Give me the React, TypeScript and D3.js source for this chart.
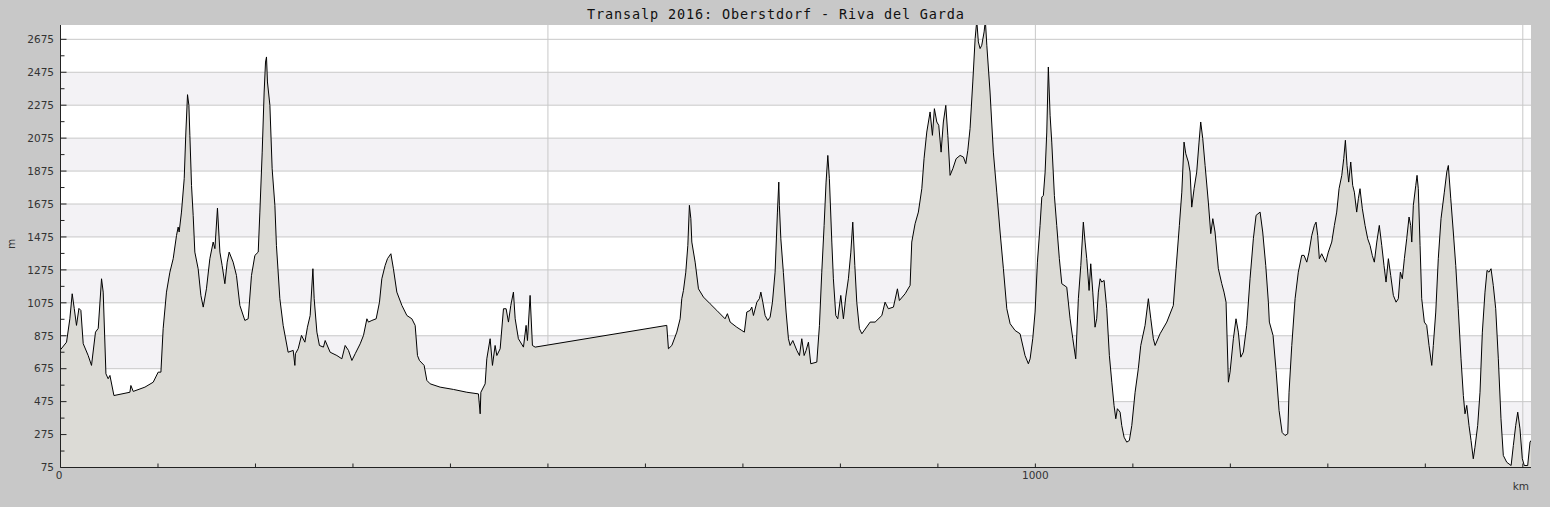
import * as d3 from "d3";

// profile: distance (km) and elevation (m)
const distanceKm = [
  0, 6.2, 9.6, 12.0, 14.1, 16.4, 18.9, 20.9, 23.3, 28.4, 31.8, 35.9, 38.7, 42.1, 43.8, 46.6, 48.9, 50.7, 54.8,
  71.2, 72.2, 74.6, 86.6, 95.1, 100.2, 103.0, 105.3, 108.7, 112.2, 115.6, 119.0, 120.7, 121.7, 124.1, 126.9,
  128.6, 130.3, 131.7, 132.7, 134.4, 136.1, 137.8, 141.2, 144.0, 146.4, 149.7, 153.2, 156.6, 158.4, 161.0,
  163.5, 165.8, 168.6, 171.0, 173.0, 177.1, 180.5, 184.0, 189.1, 192.5, 195.9, 199.4, 202.8, 204.5, 206.9,
  208.9, 210.3, 211.3, 212.3, 214.8, 217.1, 219.9, 221.5, 225.0, 228.4, 233.5, 238.7, 240.4, 241.0, 243.8,
  247.2, 250.7, 253.3, 256.1, 258.9, 260.2, 263.0, 265.6, 269.7, 271.5, 276.6, 283.5, 288.6, 292.0, 295.4,
  298.9, 302.3, 307.4, 310.8, 314.3, 315.9, 319.4, 323.8, 327.2, 329.6, 333.0, 335.4, 338.9, 341.5, 345.0,
  350.2, 355.3, 360.4, 363.8, 366.2, 368.2, 373.0, 375.8, 379.2, 389.4, 403.1, 416.8, 428.7, 430.5, 431.2,
  435.6, 437.3, 440.7, 443.1, 445.8, 447.6, 451.0, 454.4, 457.1, 459.5, 461.9, 464.6, 466.4, 469.7, 474.9,
  477.6, 479.0, 481.7, 484.1, 486.9, 621.9, 623.6, 627.1, 632.2, 635.6, 637.3, 639.0, 641.4, 643.5, 645.1,
  646.6, 647.6, 651.0, 654.4, 659.5, 666.4, 673.2, 681.7, 684.1, 686.9, 693.7, 698.9, 701.5, 704.0, 707.4,
  709.1, 710.8, 714.3, 716.9, 718.4, 720.4, 722.8, 725.5, 727.9, 730.3, 733.0, 735.4, 736.8, 737.4, 738.9,
  741.5, 744.3, 746.7, 748.4, 751.2, 755.3, 758.0, 760.4, 762.8, 764.8, 767.2, 769.6, 775.8, 778.5, 780.9,
  783.3, 785.3, 787.1, 788.7, 791.2, 792.8, 795.3, 797.3, 800.4, 803.1, 805.5, 808.2, 810.7, 812.7, 814.8,
  816.8, 819.5, 822.0, 830.5, 835.6, 842.5, 845.8, 849.2, 854.4, 858.5, 860.5, 866.4, 871.5, 873.2, 876.6,
  880.0, 883.5, 885.8, 888.6, 892.0, 894.4, 896.4, 898.9, 900.9, 903.3, 905.6, 908.1, 910.2, 912.5, 915.3,
  918.7, 922.8, 926.2, 928.6, 930.7, 933.0, 935.8, 938.2, 939.9, 941.5, 943.3, 945.0, 947.4, 948.7, 950.2,
  953.5, 956.9, 960.4, 963.8, 967.2, 970.7, 974.1, 979.2, 984.3, 989.4, 992.8, 994.6, 997.3, 999.7, 1002.1,
  1004.8, 1006.6, 1008.2, 1010.0, 1011.7, 1013.3, 1015.1, 1016.8, 1019.5, 1021.9, 1024.6, 1027.1, 1032.2,
  1035.6, 1038.4, 1041.4, 1044.1, 1046.6, 1049.2, 1051.0, 1052.7, 1055.1, 1056.8, 1058.9, 1061.2, 1062.9,
  1064.6, 1066.4, 1068.1, 1070.5, 1073.2, 1075.9, 1078.4, 1080.7, 1082.5, 1084.1, 1086.9, 1088.6, 1091.0,
  1093.7, 1096.4, 1098.9, 1102.3, 1105.6, 1108.1, 1112.5, 1115.9, 1118.4, 1121.0, 1122.8, 1127.9, 1134.8,
  1141.5, 1144.3, 1147.7, 1150.2, 1152.5, 1154.3, 1156.9, 1158.7, 1160.4, 1162.8, 1165.5, 1167.9, 1169.6,
  1171.7, 1174.1, 1177.4, 1179.9, 1182.0, 1184.3, 1187.7, 1191.2, 1193.5, 1195.6, 1198.0, 1199.7, 1203.1,
  1205.8, 1208.2, 1210.7, 1213.3, 1216.8, 1220.2, 1223.6, 1226.4, 1230.5, 1233.2, 1236.3, 1239.0, 1240.0,
  1243.8, 1246.9, 1250.0, 1253.1, 1256.1, 1258.9, 1260.2, 1263.0, 1266.4, 1269.7, 1273.2, 1275.6, 1278.4,
  1280.7, 1283.5, 1286.2, 1287.9, 1289.6, 1291.3, 1293.7, 1297.8, 1300.5, 1304.0, 1306.7, 1309.1, 1311.5,
  1314.3, 1316.3, 1318.0, 1319.7, 1321.4, 1323.5, 1325.5, 1327.2, 1329.6, 1331.3, 1333.0, 1335.4, 1338.2,
  1340.9, 1343.3, 1345.6, 1347.7, 1350.2, 1352.8, 1355.3, 1357.6, 1359.7, 1362.1, 1364.5, 1367.2, 1370.0,
  1372.3, 1374.4, 1376.4, 1378.5, 1380.9, 1383.3, 1385.0, 1386.1, 1387.7, 1390.2, 1391.5, 1392.8, 1394.6,
  1396.3, 1399.0, 1401.4, 1403.8, 1406.6, 1408.2, 1410.7, 1413.3, 1416.1, 1419.5, 1422.0, 1423.6, 1426.1,
  1428.7, 1431.2, 1433.8, 1436.6, 1439.0, 1440.7, 1442.5, 1444.8, 1446.9, 1449.2, 1450.9, 1453.7, 1456.1,
  1458.5, 1461.2, 1463.3, 1465.3, 1467.4, 1469.7, 1472.2, 1474.9, 1477.6, 1480.0, 1483.5, 1488.0, 1490.3,
  1492.7, 1494.8, 1497.1, 1499.5, 1501.5, 1505.0, 1507.4, 1508.4,
];

const elevationM = [
  790, 836, 978, 1130, 1041, 938, 1041, 1029, 827, 755, 695, 897, 920, 1221, 1140, 644, 614, 634, 512,
  532, 573, 537, 563, 593, 654, 654, 918, 1140, 1261, 1343, 1484, 1535, 1505, 1626, 1829,
  2112, 2339, 2274, 2092, 1788, 1606, 1383, 1282, 1120, 1049, 1160, 1343, 1444, 1404, 1650,
  1383, 1302, 1191, 1322, 1383, 1322, 1241, 1059, 968, 978, 1241, 1363, 1383, 1626, 1990,
  2355, 2537, 2568, 2416, 2274, 1889, 1667, 1424, 1100, 938, 775, 786, 695, 766, 796,
  877, 836, 927, 998, 1282, 1100, 897, 816, 806, 846, 775, 755, 735, 816, 786,
  725, 766, 826, 877, 978, 958, 968, 978, 1079, 1221, 1302, 1343, 1373, 1282, 1140,
  1059, 998, 978, 938, 755, 725, 695, 604, 583, 563, 549, 532, 522, 401, 532,
  583, 735, 857, 695, 816, 755, 796, 1039, 1039, 958, 1059, 1140, 978, 857, 806,
  938, 846, 1120, 816, 806, 938, 796, 816, 897, 978, 1100, 1150, 1261, 1424, 1667,
  1586, 1444, 1322, 1160, 1110, 1069, 1029, 978, 1009, 958, 927, 907, 897, 1019, 1029,
  1049, 998, 1079, 1100, 1140, 1079, 998, 968, 988, 1079, 1261, 1626, 1808, 1667, 1464,
  1260, 1019, 857, 816, 846, 786, 755, 857, 755, 786, 836, 705, 715, 938, 1261,
  1545, 1808, 1970, 1829, 1444, 1221, 998, 978, 1120, 978, 1110, 1221, 1383, 1565, 1302,
  1079, 918, 887, 958, 958, 998, 1079, 1039, 1049, 1160, 1089, 1130, 1181, 1444, 1555,
  1626, 1768, 1950, 2112, 2234, 2092, 2254, 2173, 2153, 1990, 2173, 2274, 2092, 1849, 1889,
  1950, 1970, 1960, 1920, 2001, 2133, 2416, 2679, 2790, 2659, 2619, 2639, 2720, 2790, 2639,
  2355, 1990, 1747, 1505, 1282, 1039, 948, 907, 887, 755, 705, 735, 857, 1019, 1322,
  1545, 1717, 1727, 1869, 2112, 2507, 2214, 2051, 1727, 1545, 1343, 1191, 1170,
  978, 857, 735, 1100, 1302, 1565, 1444, 1343, 1150, 1312, 1140, 927, 978,
  1140, 1221, 1201, 1211, 1039, 755, 593, 452, 371, 432, 411, 330, 259,
  229, 239, 330, 532, 675, 816, 938, 1100, 978, 857, 816, 887, 958,
  1059, 1282, 1545, 1747, 2051, 1980, 1930, 1869, 1656, 1768, 1869, 2051, 2173,
  2072, 1909, 1687, 1495, 1586, 1505, 1282, 1191, 1140, 1079, 593, 654, 857,
  978, 897, 745, 775, 938, 1221, 1464, 1606, 1626, 1505, 1302, 1079, 958,
  877, 664, 421, 288, 269, 280, 532, 816, 1100, 1261, 1363, 1363, 1322,
  1383, 1484, 1545, 1565, 1484, 1343, 1373, 1322, 1383, 1444, 1545, 1626, 1768,
  1849, 1950, 2062, 1909, 1808, 1930, 1788, 1747, 1626, 1707, 1768, 1646, 1545,
  1464, 1424, 1363, 1322, 1444, 1545, 1424, 1302, 1201, 1343, 1241, 1120, 1079,
  1100, 1261, 1221, 1343, 1464, 1596, 1545, 1444, 1667, 1788, 1849, 1768, 1424,
  1100, 958, 938, 816, 695, 816, 1019, 1343, 1586, 1747, 1869, 1909, 1707,
  1505, 1302, 1039, 735, 512, 401, 452, 330, 239, 128, 198, 330, 532,
  897, 1140, 1272, 1261, 1282, 1181, 1039, 735, 371, 148, 107, 87, 209,
  330, 411, 310, 128, 87, 87, 229, 239,
];

const yMajorTicks = [75, 275, 475, 675, 875, 1075, 1275, 1475, 1675, 1875, 2075, 2275, 2475, 2675];
const yMinorTicks = [175, 375, 575, 775, 975, 1175, 1375, 1575, 1775, 1975, 2175, 2375, 2575];
const xGridKm = [500, 1000, 1500];
const xMinorTicks = [100, 200, 300, 400, 500, 600, 700, 800, 900, 1000, 1100, 1200, 1300, 1400, 1500];
const xLabels = [0, 1000];

const title = "Transalp 2016: Oberstdorf - Riva del Garda";

type Point = { km: number; m: number };

export default function App() {
  const width = 1550;
  const height = 507;
  const left = 60.5;
  const right = 1531;
  const top = 25;
  const bottom = 467.5;

  const x = d3.scaleLinear().domain([0, 1508.4]).range([left, right]);
  const y = d3.scaleLinear().domain([75, 2762]).range([bottom, top]);

  const data: Point[] = distanceKm.map((km, i) => ({ km, m: elevationM[i] }));

  const area = d3
    .area<Point>()
    .x((d) => x(d.km))
    .y0(bottom)
    .y1((d) => y(d.m));
  const line = d3
    .line<Point>()
    .x((d) => x(d.km))
    .y((d) => y(d.m));

  // alternating bands: shaded between 275-475, 675-875, ...
  const bands = yMajorTicks.filter((t, i) => i % 2 === 1 && t + 200 <= 2675);

  const labelFont = "'DejaVu Sans', sans-serif";

  return (
    <svg
      width={width}
      height={height}
      style={{ position: "absolute", left: 0, top: 0, display: "block" }}
    >
      <defs>
        <clipPath id="plotClip">
          <rect x={left} y={top} width={right - left} height={bottom - top} />
        </clipPath>
      </defs>
      <rect x={0} y={0} width={width} height={height} fill="#c8c8c8" />
      <rect x={left} y={top} width={right - left} height={bottom - top} fill="#ffffff" />

      {bands.map((t) => (
        <rect
          key={"b" + t}
          x={left}
          y={y(t + 200)}
          width={right - left}
          height={y(t) - y(t + 200)}
          fill="#f3f2f5"
        />
      ))}
      {yMajorTicks.map((t) => (
        <line key={"g" + t} x1={left} x2={right} y1={y(t)} y2={y(t)} stroke="#c8c8c8" strokeWidth={1} />
      ))}
      {xGridKm.map((k) => (
        <line key={"gx" + k} x1={x(k)} x2={x(k)} y1={top} y2={bottom} stroke="#c8c8c8" strokeWidth={1} />
      ))}

      <g clipPath="url(#plotClip)">
        <path d={area(data) ?? ""} fill="#dcdbd6" />
        <path d={line(data) ?? ""} fill="none" stroke="#000" strokeWidth={1} strokeLinejoin="round" />
      </g>

      {/* axes */}
      <line x1={left} x2={left} y1={top} y2={bottom} stroke="#222" strokeWidth={1} />
      <line x1={left} x2={right} y1={bottom} y2={bottom} stroke="#222" strokeWidth={1} />
      {yMajorTicks.map((t) => (
        <line key={"yt" + t} x1={left} x2={left + 6} y1={y(t)} y2={y(t)} stroke="#222" />
      ))}
      {yMinorTicks.map((t) => (
        <line key={"ym" + t} x1={left} x2={left + 4} y1={y(t)} y2={y(t)} stroke="#222" />
      ))}
      {xMinorTicks.map((k) => (
        <line key={"xt" + k} x1={x(k)} x2={x(k)} y1={bottom} y2={bottom - 4} stroke="#222" />
      ))}

      {yMajorTicks.map((t) => (
        <text
          key={"yl" + t}
          x={54}
          y={y(t) + 3.8}
          textAnchor="end"
          fontFamily={labelFont}
          fontSize={10.5}
          fill="#333"
        >
          {t}
        </text>
      ))}
      {xLabels.map((k) => (
        <text
          key={"xl" + k}
          x={x(k) - (k === 0 ? 1.5 : 0)}
          y={479}
          textAnchor="middle"
          fontFamily={labelFont}
          fontSize={10.5}
          fill="#333"
        >
          {k}
        </text>
      ))}
      <text x={1529} y={490} textAnchor="end" fontFamily={labelFont} fontSize={10.5} fill="#333">
        km
      </text>
      <text
        transform="translate(15,244) rotate(-90)"
        textAnchor="middle"
        fontFamily={labelFont}
        fontSize={10.5}
        fill="#333"
      >
        m
      </text>

      <text
        x={775.5}
        y={18.5}
        textAnchor="middle"
        fontFamily="'DejaVu Sans Mono', monospace"
        fontSize={13.5}
        textLength={377}
        lengthAdjust="spacing"
        fill="#111"
      >
        {title}
      </text>
    </svg>
  );
}
